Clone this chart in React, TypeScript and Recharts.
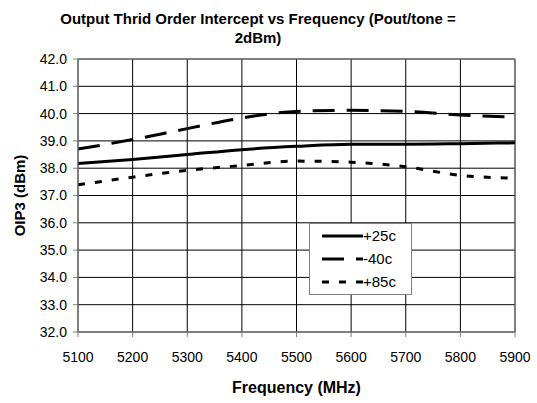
import { LineChart, Line, XAxis, YAxis, CartesianGrid, Legend, ReferenceLine } from 'recharts';

// frequency points (MHz)
const frequencies = [5100, 5200, 5300, 5400, 5500, 5600, 5700, 5800, 5900];

// OIP3 (dBm) per temperature
const oip3Plus25 = [38.17, 38.32, 38.5, 38.68, 38.8, 38.88, 38.88, 38.9, 38.93];
const oip3Minus40 = [38.7, 39.05, 39.45, 39.84, 40.08, 40.12, 40.08, 39.95, 39.87];
const oip3Plus85 = [37.39, 37.67, 37.92, 38.1, 38.26, 38.22, 38.05, 37.74, 37.63];

const yTicks = [32, 33, 34, 35, 36, 37, 38, 39, 40, 41, 42];

const seriesStyles = [
  { key: 'plus25', name: '+25c', dash: undefined },
  { key: 'minus40', name: '-40c', dash: '22 12' },
  { key: 'plus85', name: '+85c', dash: '7 10' },
];

const data = frequencies.map((f, i) => ({
  freq: f,
  plus25: oip3Plus25[i],
  minus40: oip3Minus40[i],
  plus85: oip3Plus85[i],
}));

const FONT = '"Liberation Sans", Arial, sans-serif';

function LegendBox() {
  return (
    <div
      style={{
        width: 103,
        height: 72,
        border: '1px solid #808080',
        background: '#fff',
        boxSizing: 'border-box',
        paddingTop: 0,
        fontFamily: FONT,
        fontSize: 15,
      }}
    >
      {seriesStyles.map((s) => (
        <div key={s.key} style={{ display: 'flex', alignItems: 'center', height: 23 }}>
          <svg width={53} height={10}>
            <line x1={12} y1={5} x2={53} y2={5} stroke="#000" strokeWidth={3} strokeDasharray={s.dash} />
          </svg>
          <span style={{ color: '#000' }}>{s.name}</span>
        </div>
      ))}
    </div>
  );
}

export default function App() {
  return (
    <div style={{ position: 'absolute', left: 0, top: 0, width: 537, height: 403, background: '#fff', fontFamily: FONT }}>
      <div
        style={{
          position: 'absolute',
          left: 0,
          top: 9,
          width: 516,
          textAlign: 'center',
          fontWeight: 'bold',
          fontSize: 15,
          lineHeight: '19px',
          color: '#000',
        }}
      >
        Output Thrid Order Intercept vs Frequency (Pout/tone =
        <br />
        2dBm)
      </div>
      <LineChart width={537} height={403} data={data} margin={{ top: 59, right: 22, bottom: 0, left: 0 }}>
        <CartesianGrid stroke="#000" strokeWidth={1} />
        <XAxis
          dataKey="freq"
          type="number"
          domain={[5100, 5900]}
          ticks={frequencies}
          height={71}
          tickSize={5}
          tickMargin={15}
          stroke="#808080"
          tick={{ fill: '#000', fontSize: 14, fontFamily: FONT }}
          label={{
            value: 'Frequency (MHz)',
            position: 'insideBottom',
            offset: 10,
            style: { fontWeight: 'bold', fontSize: 16, fill: '#000', fontFamily: FONT },
          }}
        />
        <YAxis
          type="number"
          domain={[32, 42]}
          ticks={yTicks}
          width={78}
          tickSize={5}
          tickMargin={6}
          stroke="#808080"
          tickFormatter={(v: number) => v.toFixed(1)}
          tick={{ fill: '#000', fontSize: 14, fontFamily: FONT }}
          label={{
            value: 'OIP3 (dBm)',
            angle: -90,
            position: 'insideLeft',
            offset: 20,
            style: { textAnchor: 'middle', fontWeight: 'bold', fontSize: 15, fill: '#000', fontFamily: FONT },
          }}
        />
        <ReferenceLine y={42} stroke="#808080" />
        <ReferenceLine x={5900} stroke="#808080" />
        {seriesStyles.map((s) => (
          <Line
            key={s.key}
            type="monotone"
            dataKey={s.key}
            name={s.name}
            stroke="#000"
            strokeWidth={3}
            strokeDasharray={s.dash}
            dot={false}
            isAnimationActive={false}
          />
        ))}
        <Legend
          layout="vertical"
          align="center"
          verticalAlign="middle"
          content={() => <LegendBox />}
          wrapperStyle={{ position: 'absolute', left: 309, top: 223, width: 103, height: 72 }}
        />
      </LineChart>
    </div>
  );
}
